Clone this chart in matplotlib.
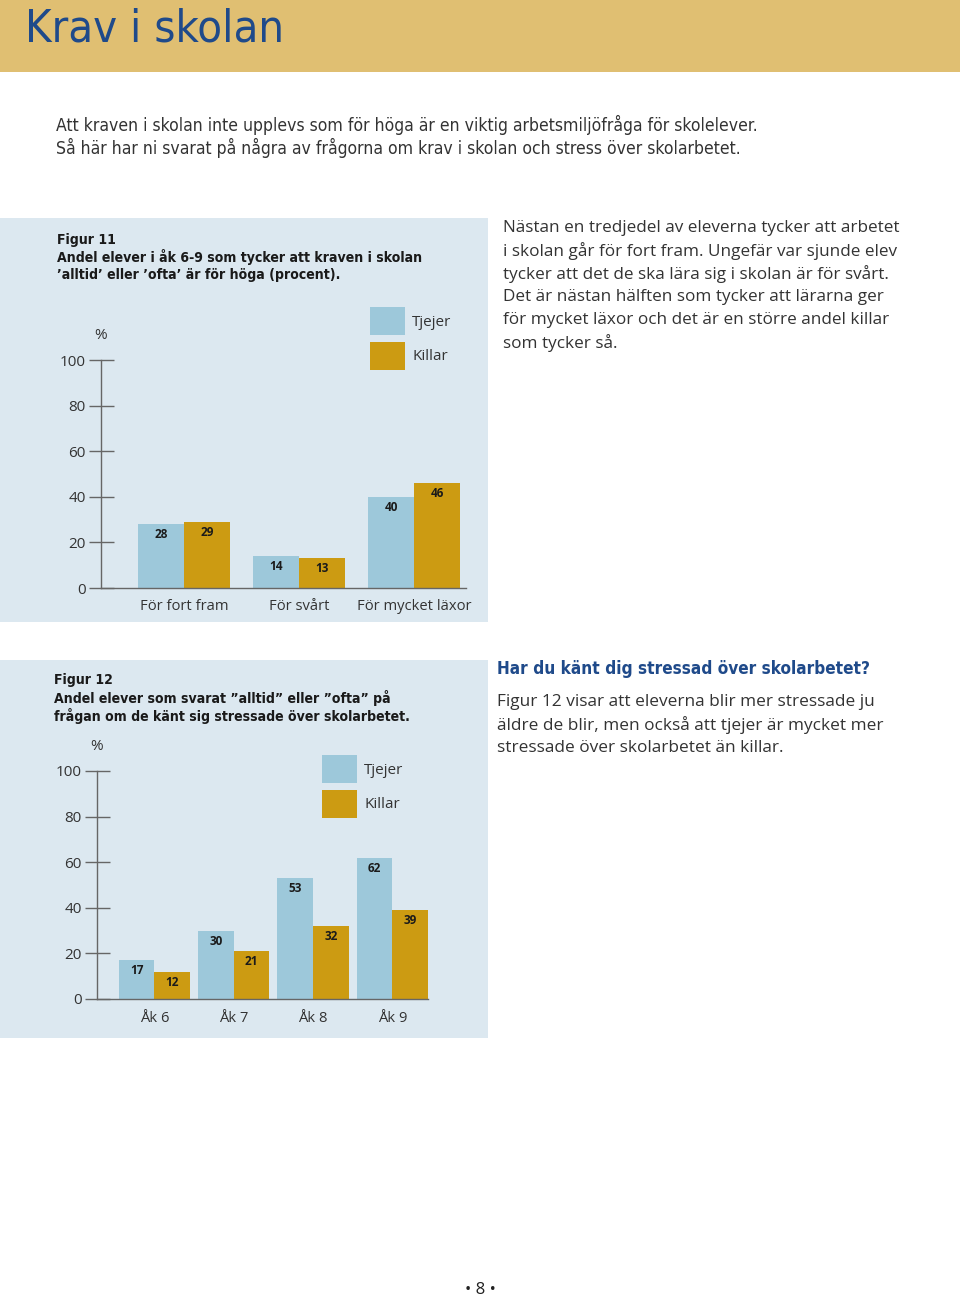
import matplotlib
matplotlib.use("Agg")
import matplotlib.pyplot as plt
from matplotlib.patches import Rectangle

# ---------------- data ----------------
fig11_categories = ["För fort fram", "För svårt", "För mycket läxor"]
fig11_tjejer = [28, 14, 40]
fig11_killar = [29, 13, 46]

fig12_categories = ["Åk 6", "Åk 7", "Åk 8", "Åk 9"]
fig12_tjejer = [17, 30, 53, 62]
fig12_killar = [12, 21, 32, 39]

y_ticks = [0, 20, 40, 60, 80, 100]
series_names = ["Tjejer", "Killar"]

# ---------------- style ----------------
W, H = 960, 1298
DPI = 100
C_HEADER = "#E0BF72"
C_TITLE = "#1F4A8A"
C_PANEL = "#DCE8F0"
C_TJ = "#9DC8DA"
C_KI = "#CC9B12"
C_TEXT = "#333333"
C_AXIS = "#666666"
BODY = ["Open Sans", "DejaVu Sans"]
NARROW = ["DejaVu Sans"]
NSTRETCH = "condensed"

fig = plt.figure(figsize=(W / DPI, H / DPI), dpi=DPI)
fig.patch.set_facecolor("white")


def fx(x):
    return x / W


def fy(y):
    return 1 - y / H


def txt(x, y, s, **kw):
    kw.setdefault("va", "center")
    kw.setdefault("ha", "left")
    fig.text(fx(x), fy(y), s, **kw)


def rect(x0, y0, x1, y1, color, z=-1):
    fig.patches.append(Rectangle((fx(x0), fy(y1)), fx(x1) - fx(x0), fy(y0) - fy(y1),
                                 transform=fig.transFigure, facecolor=color,
                                 edgecolor="none", zorder=z))


# header
rect(0, 0, W, 72, C_HEADER)
txt(25, 41, "Krav i skolan", fontsize=32.5, color=C_TITLE, family=NARROW,
    fontstretch=NSTRETCH, va="baseline")

# intro
txt(56, 125, "Att kraven i skolan inte upplevs som för höga är en viktig arbetsmiljöfråga för skolelever.",
    fontsize=12.6, color=C_TEXT, family=NARROW, fontstretch=NSTRETCH)
txt(56, 148, "Så här har ni svarat på några av frågorna om krav i skolan och stress över skolarbetet.",
    fontsize=12.6, color=C_TEXT, family=NARROW, fontstretch=NSTRETCH)

# panels
rect(0, 218, 488, 622, C_PANEL)
rect(0, 660, 488, 1038, C_PANEL)


def chart(left_px, right_px, top_px, bottom_px, cats, tj, ki, xlo, xhi, bw, label_y_px):
    ax = fig.add_axes([fx(left_px), fy(bottom_px), fx(right_px) - fx(left_px),
                       fy(top_px) - fy(bottom_px)])
    ax.set_facecolor("none")
    n = len(cats)
    xs = list(range(n))
    b1 = ax.bar([x - bw / 2 for x in xs], tj, width=bw, color=C_TJ, align="center", zorder=2)
    b2 = ax.bar([x + bw / 2 for x in xs], ki, width=bw, color=C_KI, align="center", zorder=2)
    for bars, vals in ((b1, tj), (b2, ki)):
        for rct, v in zip(bars, vals):
            ax.annotate(str(v), (rct.get_x() + rct.get_width() / 2, v),
                        xytext=(0, -7.5), textcoords="offset points",
                        ha="center", va="center", fontsize=8.5, fontweight="bold",
                        color="#1a1a1a", family=BODY)
    ax.set_xlim(xlo, xhi)
    ax.set_ylim(0, 100)
    for s in ("top", "right"):
        ax.spines[s].set_visible(False)
    ax.spines["left"].set_color(C_AXIS)
    ax.spines["bottom"].set_color(C_AXIS)
    ax.spines["left"].set_linewidth(1.0)
    ax.spines["bottom"].set_linewidth(1.0)
    ax.set_yticks(y_ticks)
    ax.set_yticklabels([str(t) for t in y_ticks], fontsize=11, color=C_TEXT, family=BODY)
    ax.tick_params(axis="y", direction="inout", length=18, width=1.0, color=C_AXIS, pad=2)
    ax.set_xticks(xs)
    ax.set_xticklabels([])
    ax.tick_params(axis="x", length=0)
    for x, c in zip(xs, cats):
        ax.annotate(c, (x, 0), xytext=(0, -(label_y_px - bottom_px) * 72 / DPI),
                    textcoords="offset points", ha="center", va="center",
                    fontsize=10.6, color=C_TEXT, family=BODY, annotation_clip=False)
    return ax


TKW = dict(fontsize=10.1, fontweight="bold", color="#1a1a1a", family=NARROW, fontstretch=NSTRETCH)

# Figure 11
txt(57, 240, "Figur 11", **TKW)
txt(57, 257, "Andel elever i åk 6-9 som tycker att kraven i skolan", **TKW)
txt(57, 275, "’alltid’ eller ’ofta’ är för höga (procent).", **TKW)
txt(101, 335, "%", fontsize=11, color=C_TEXT, family=BODY, ha="center")
chart(101, 466, 360, 588, fig11_categories, fig11_tjejer, fig11_killar, -0.72, 2.45, 0.4, 607)
rect(370, 307, 405, 335, C_TJ)
rect(370, 342, 405, 370, C_KI)
txt(412, 322, series_names[0], fontsize=11, color=C_TEXT, family=BODY)
txt(412, 357, series_names[1], fontsize=11, color=C_TEXT, family=BODY)

# right text 1
para1 = ["Nästan en tredjedel av eleverna tycker att arbetet",
         "i skolan går för fort fram. Ungefär var sjunde elev",
         "tycker att det de ska lära sig i skolan är för svårt.",
         "Det är nästan hälften som tycker att lärarna ger",
         "för mycket läxor och det är en större andel killar",
         "som tycker så."]
for i, line in enumerate(para1):
    txt(503, 227.5 + i * 23.2, line, fontsize=12.3, color=C_TEXT, family=BODY)

# Figure 12
txt(54, 680, "Figur 12", **TKW)
txt(54, 698, "Andel elever som svarat ”alltid” eller ”ofta” på", **TKW)
txt(54, 716, "frågan om de känt sig stressade över skolarbetet.", **TKW)
txt(97, 746, "%", fontsize=11, color=C_TEXT, family=BODY, ha="center")
chart(97, 428, 771, 999, fig12_categories, fig12_tjejer, fig12_killar, -0.725, 3.45, 0.45, 1018)
rect(322, 755, 357, 783, C_TJ)
rect(322, 790, 357, 818, C_KI)
txt(364, 770, series_names[0], fontsize=11, color=C_TEXT, family=BODY)
txt(364, 805, series_names[1], fontsize=11, color=C_TEXT, family=BODY)

# right text 2
txt(497, 669, "Har du känt dig stressad över skolarbetet?", fontsize=12.3,
    fontweight="bold", color=C_TITLE, family=NARROW, fontstretch=NSTRETCH)
para2 = ["Figur 12 visar att eleverna blir mer stressade ju",
         "äldre de blir, men också att tjejer är mycket mer",
         "stressade över skolarbetet än killar."]
for i, line in enumerate(para2):
    txt(497, 702 + i * 23.2, line, fontsize=12.4, color=C_TEXT, family=BODY)

# page number
txt(480, 1290, "• 8 •", fontsize=12, color="#222222", family=BODY, ha="center")

fig.savefig("out.png", dpi=DPI, facecolor="white")
